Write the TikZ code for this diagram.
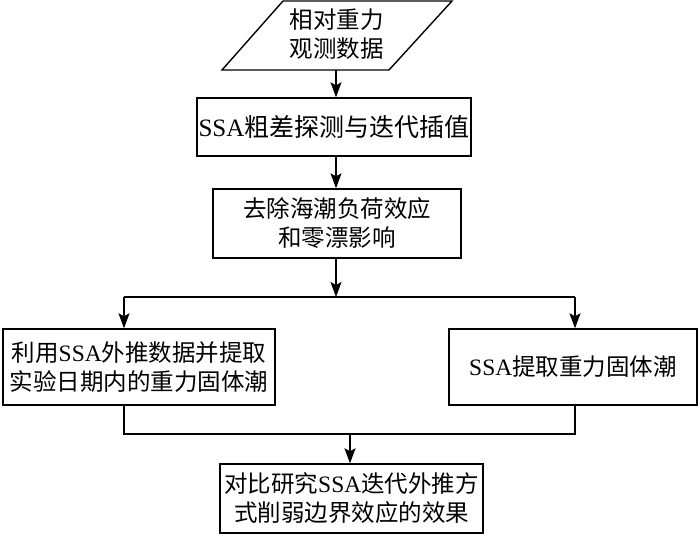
\documentclass[tikz,border=0pt]{standalone}
\usepackage{fontspec}
\setmainfont{Liberation Serif}
\newfontfamily\cjk{Noto Sans CJK SC}
\usetikzlibrary{arrows.meta}
\newcommand{\zh}[1]{{\cjk #1}}
\begin{document}
\begin{tikzpicture}[x=1pt,y=-1pt,
  txt/.style={inner sep=0pt, align=center, font=\fontsize{23.5}{29}\selectfont},
  box/.style={txt, draw, line width=1.4pt},
  arr/.style={line width=1.4pt, -{Stealth[length=15pt,width=11pt,inset=3pt]}},
  ln/.style={line width=1.4pt}]
\useasboundingbox[fill=white] (0,0) rectangle (700,535);
% input parallelogram
\draw[ln] (283,1) -- (452,1) -- (389,70) -- (222,70) -- cycle;
\node[txt] (data) at (336.5,34) {\zh{相对重力}\\\zh{观测数据}};
\coordinate (datab) at (336,70);
% boxes
\node[box, minimum width=274pt, minimum height=58pt, font=\fontsize{25}{30}\selectfont] (b2) at (334,127) {SSA\zh{粗差探测与迭代插值}};
\node[box, minimum width=248pt, minimum height=69pt] (b3) at (337,223.5) {\zh{去除海潮负荷效应}\\\zh{和零漂影响}};
\node[box, minimum width=272pt, minimum height=76pt] (left) at (139,367) {\zh{利用}SSA\zh{外推数据并提取}\\\zh{实验日期内的重力固体潮}};
\node[box, minimum width=248pt, minimum height=76pt] (right) at (573,367) {SSA\zh{提取重力固体潮}};
\node[box, minimum width=263pt, minimum height=69pt] (bot) at (351.5,498.5) {\zh{对比研究}SSA\zh{迭代外推方}\\\zh{式削弱边界效应的效果}};
% junctions
\coordinate (j1) at (336,297);
\coordinate (jl) at (124,297);
\coordinate (jr) at (575,297);
\coordinate (kl) at (124,434);
\coordinate (kr) at (575,434);
\coordinate (k) at (350,434);
% connectors
\draw[arr] (datab) -- (datab |- b2.north);
\draw[arr] (b2.south -| datab) -- (datab |- b3.north);
\draw[arr] (b3.south -| j1) -- (j1);
\draw[ln] (jl) -- (jr);
\draw[arr] (jl) -- (jl |- left.north);
\draw[arr] (jr) -- (jr |- right.north);
\draw[ln] (left.south -| kl) -- (kl) -- (kr) -- (right.south -| kr);
\draw[arr] (k) -- (k |- bot.north);
\end{tikzpicture}
\end{document}
